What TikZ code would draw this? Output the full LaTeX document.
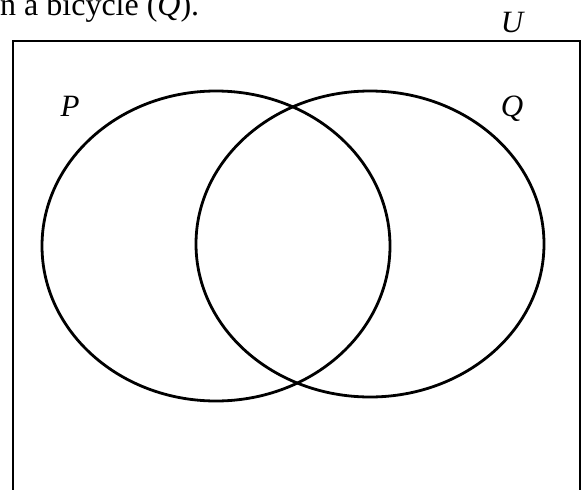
\documentclass[tikz,border=0pt]{standalone}
\usepackage{fontspec}
\setmainfont{Liberation Serif}
\usepackage{tikz}
\usetikzlibrary{positioning}
\tikzset{
  setline/.style={line width=2.8pt},
  setlabel/.style={font=\fontsize{31}{36}\selectfont\itshape, inner sep=0pt},
}

\begin{document}
\begin{tikzpicture}[x=1pt, y=-1pt]
  \clip (0,0) rectangle (587,490);
  \node[anchor=base west, inner sep=0pt, font=\fontsize{32}{37}\selectfont] (caption) at (0,15)
    {n a bicycle (\textit{Q}).};
  \draw[setline] (13,520) -- (13,41) -- (580,41) -- (580,520);
  \node[setlabel] (U) at (512,23) {U};
  % the two sets
  \draw[setline] (216,246) ellipse [x radius=174pt, y radius=155pt];
  \draw[setline] (370,244) ellipse [x radius=174pt, y radius=153pt];
  \node[setlabel] (P) at (70,106) {P};
  \node[setlabel] (Q) at (512,109) {Q};
\end{tikzpicture}
\end{document}
